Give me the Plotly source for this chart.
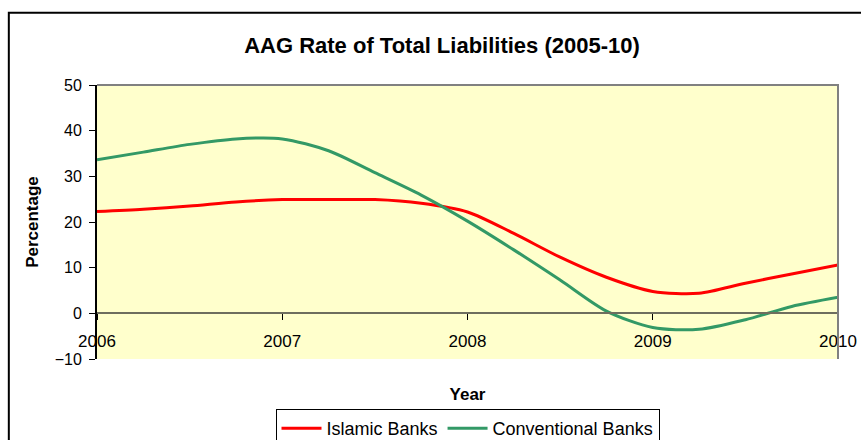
import plotly.graph_objects as go

# Quarterly observations, 2006 to 2010
years = [2006.0, 2006.25, 2006.5, 2006.75, 2007.0, 2007.25, 2007.5, 2007.75,
         2008.0, 2008.25, 2008.5, 2008.75, 2009.0, 2009.25, 2009.5, 2009.75, 2010.0]
islamic_banks = [22.3, 22.8, 23.5, 24.4, 24.9, 24.9, 24.9, 24.1,
                 22.2, 17.5, 12.3, 7.9, 4.8, 4.4, 6.6, 8.6, 10.6]
conventional_banks = [33.6, 35.3, 37.0, 38.2, 38.2, 35.6, 30.8, 25.9,
                      20.2, 13.9, 7.3, 0.5, -3.1, -3.5, -1.4, 1.5, 3.5]

x_ticks = [2006, 2007, 2008, 2009, 2010]
y_ticks = [-10, 0, 10, 20, 30, 40, 50]
y_range = [-10, 50]

FONT = "Liberation Sans, Arial, sans-serif"
ZERO_POS = (0 - y_range[0]) / (y_range[1] - y_range[0])

fig = go.Figure()
fig.add_trace(go.Scatter(
    x=years, y=islamic_banks, name="Islamic Banks", mode="lines",
    line=dict(color="#FF0000", width=3, shape="spline", smoothing=0.8),
))
fig.add_trace(go.Scatter(
    x=years, y=conventional_banks, name="Conventional Banks", mode="lines",
    line=dict(color="#339966", width=3, shape="spline", smoothing=0.8),
))

axis_font = dict(family=FONT, size=16, color="#000000")

fig.update_layout(
    width=861, height=440,
    margin=dict(l=97, r=23, t=85, b=81, autoexpand=False),
    paper_bgcolor="#FFFFFF",
    plot_bgcolor="#FFFFCC",
    title=dict(
        text="AAG Rate of Total Liabilities (2005-10)",
        x=442 / 861, xanchor="center",
        y=1 - 45 / 440, yanchor="middle",
        font=dict(family=FONT, size=22, color="#000000", weight="bold"),
    ),
    showlegend=True,
    legend=dict(
        orientation="h",
        x=0.5, xanchor="center",
        y=-0.183, yanchor="top",
        bordercolor="#000000", borderwidth=1,
        bgcolor="#FFFFFF",
        font=dict(family=FONT, size=18, color="#000000"),
        itemwidth=40,
        tracegroupgap=0,
    ),
    xaxis=dict(
        range=[2006, 2010],
        tickvals=x_ticks,
        ticktext=[str(v) for v in x_ticks],
        anchor="free", position=ZERO_POS,
        showline=True, linecolor="#6E6E5E", linewidth=2,
        ticks="outside", ticklen=6, tickwidth=1, tickcolor="#000000",
        ticklabelstandoff=6,
        tickfont=dict(family=FONT, size=17, color="#000000"),
        showgrid=False, zeroline=False, automargin=False,
        title=dict(text="Year", standoff=37,
                   font=dict(family=FONT, size=17, color="#000000", weight="bold")),
    ),
    xaxis2=dict(
        range=[2006, 2010], overlaying="x",
        tickvals=x_ticks, anchor="free", position=ZERO_POS,
        showline=False, ticks="inside", ticklen=6, tickwidth=1, tickcolor="#000000",
        showticklabels=False, showgrid=False, zeroline=False,
    ),
    yaxis=dict(
        range=y_range,
        tickvals=y_ticks,
        showline=True, linecolor="#000000", linewidth=2,
        ticks="outside", ticklen=6, tickwidth=1, tickcolor="#000000",
        ticklabelstandoff=4,
        tickfont=axis_font,
        showgrid=False, zeroline=False, automargin=False,
        title=dict(text="Percentage", standoff=12,
                   font=dict(family=FONT, size=17, color="#000000", weight="bold")),
    ),
    yaxis2=dict(
        range=y_range, overlaying="y", side="left",
        tickvals=y_ticks,
        showline=False, ticks="inside", ticklen=6, tickwidth=1, tickcolor="#000000",
        showticklabels=False, showgrid=False, zeroline=False,
    ),
    shapes=[
        # top and right edges of the plot area
        dict(type="path", xref="paper", yref="paper",
             path="M 0 1 L 1 1 L 1 0",
             line=dict(color="#808080", width=2)),
        # outer chart frame
        dict(type="rect", xref="paper", yref="paper",
             x0=-0.119, x1=1.2, y0=-0.5, y1=1.264,
             line=dict(color="#000000", width=2)),
    ],
)

fig.write_html("out.html")
